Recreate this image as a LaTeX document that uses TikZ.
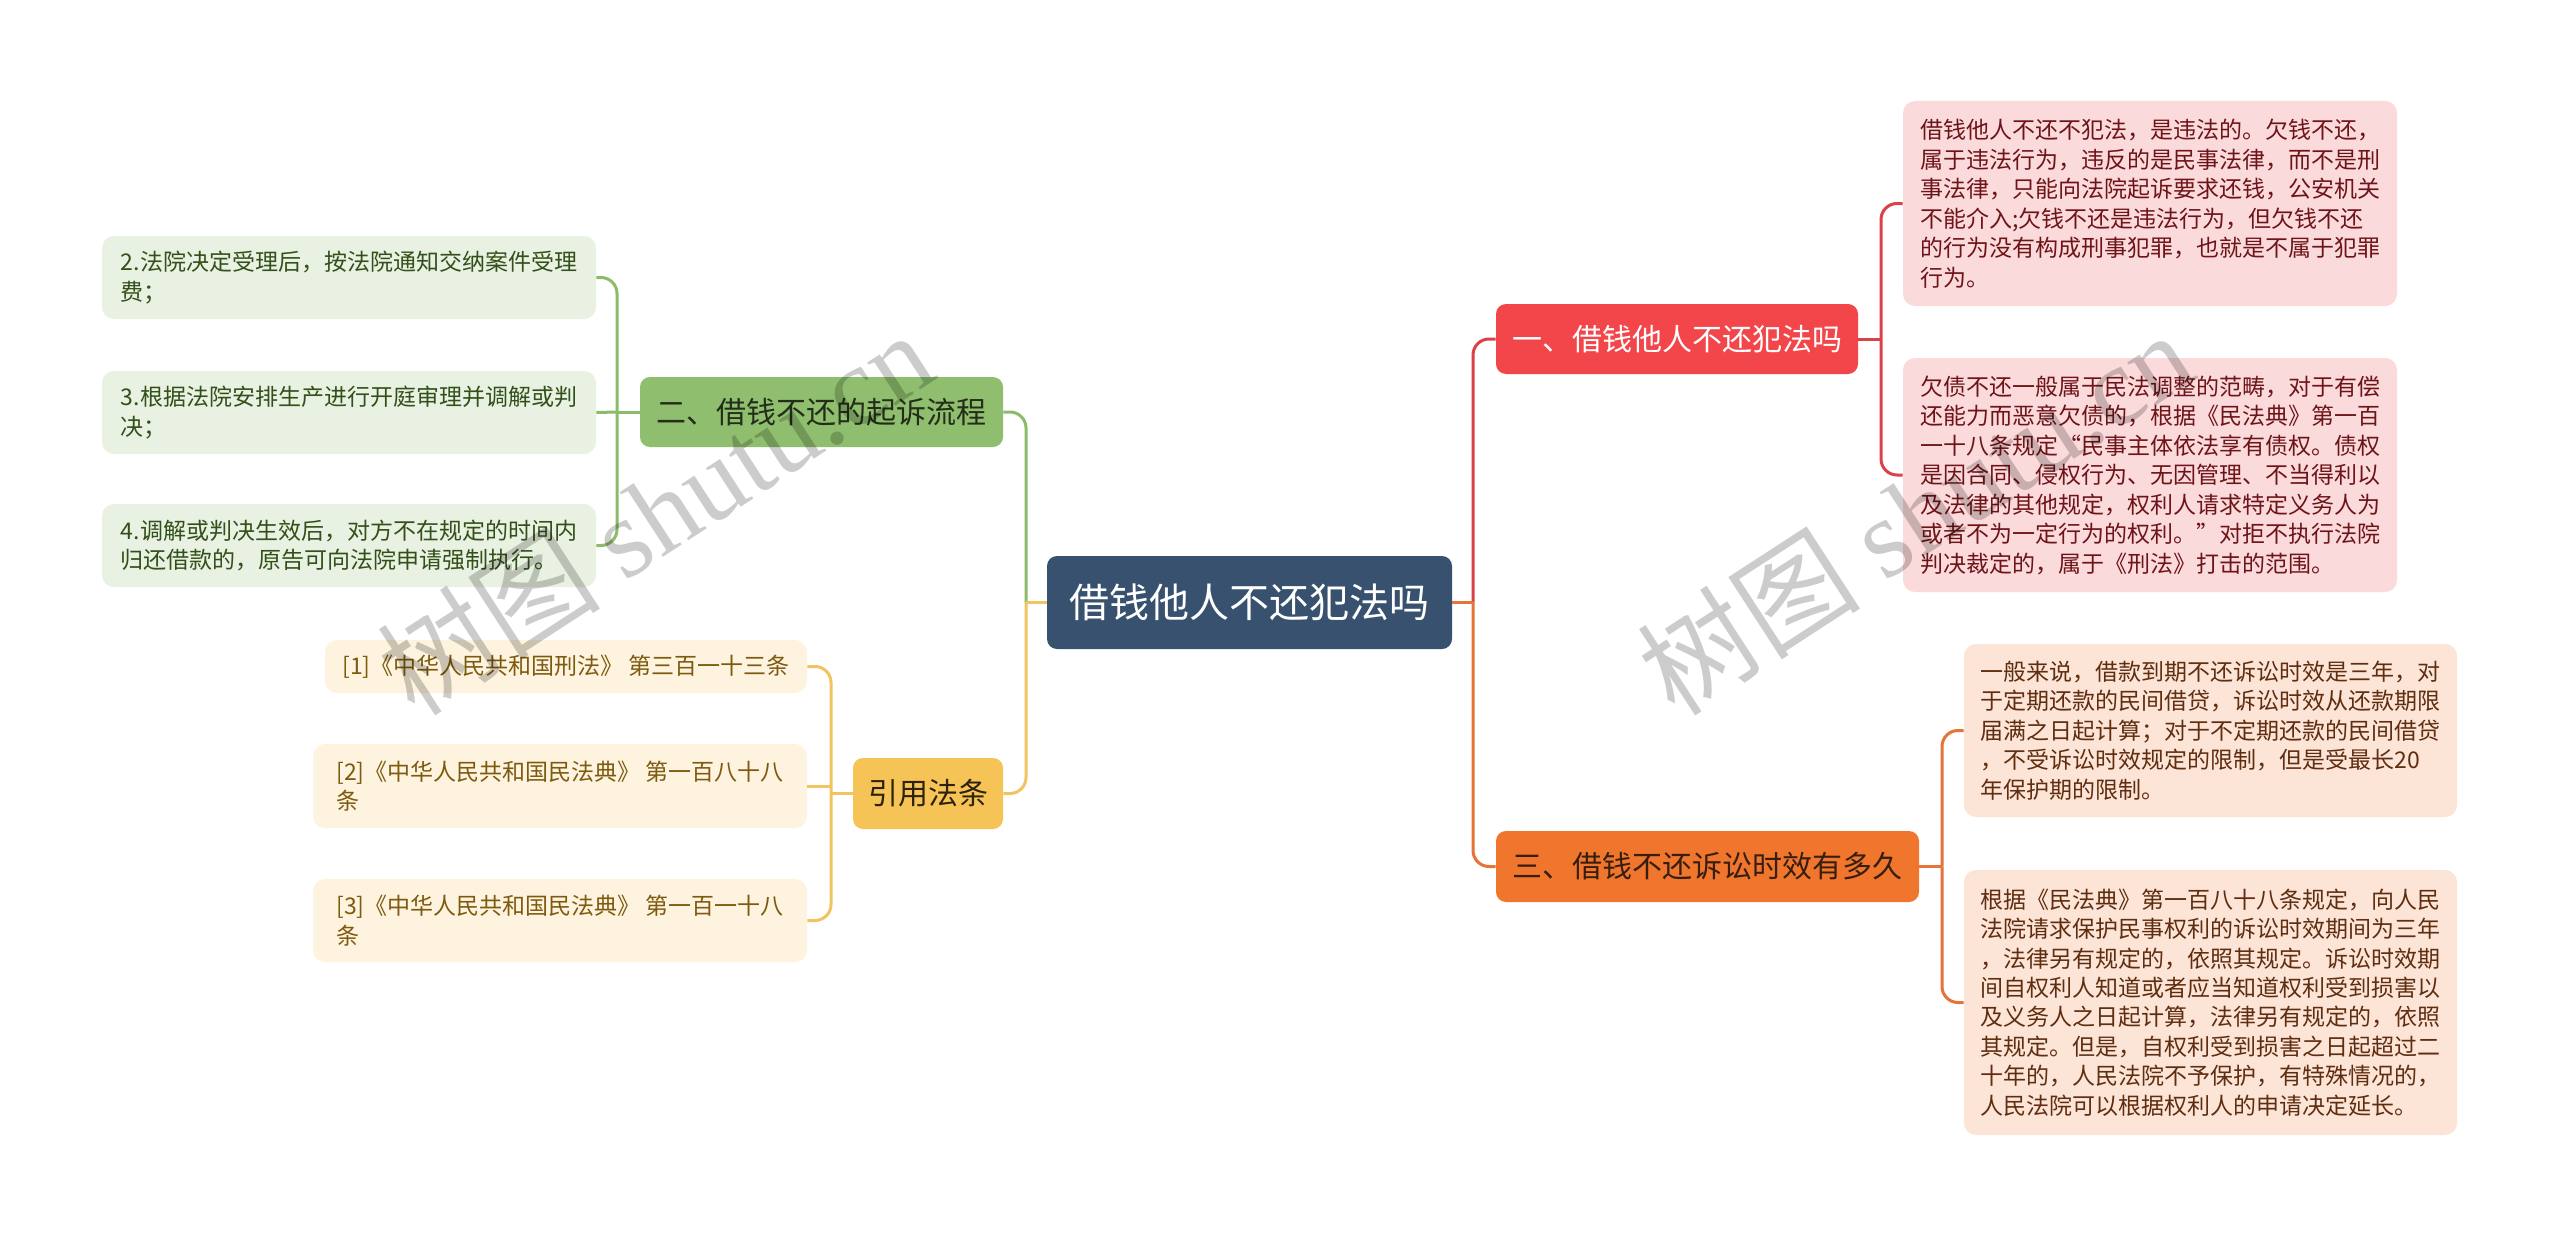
\documentclass[tikz,border=0pt]{standalone}
\usepackage{fontspec}
\setmainfont{Noto Sans CJK SC}
\newfontfamily\wmlatin{Liberation Serif}
\definecolor{centerc}{RGB}{55,81,110}
\definecolor{redb}{RGB}{243,70,74}
\definecolor{redleaf}{RGB}{251,218,219}
\definecolor{redtext}{RGB}{110,20,25}
\definecolor{redline}{RGB}{218,65,72}
\definecolor{orangeb}{RGB}{240,118,46}
\definecolor{orangeleaf}{RGB}{252,228,215}
\definecolor{orangetext}{RGB}{95,45,15}
\definecolor{orangeline}{RGB}{230,115,55}
\definecolor{orangebt}{RGB}{55,30,15}
\definecolor{greenb}{RGB}{143,190,111}
\definecolor{greenleaf}{RGB}{233,241,226}
\definecolor{greentext}{RGB}{50,80,25}
\definecolor{greenline}{RGB}{140,187,105}
\definecolor{greenbt}{RGB}{35,45,25}
\definecolor{yellowb}{RGB}{246,196,86}
\definecolor{yellowleaf}{RGB}{253,243,222}
\definecolor{yellowtext}{RGB}{125,90,15}
\definecolor{yellowline}{RGB}{241,196,95}
\definecolor{yellowbt}{RGB}{45,35,10}
\tikzset{
  rootbox/.style={rectangle, rounded corners=5pt, inner sep=0pt, align=center, fill=centerc, text=white, font=\fontsize{20}{24}\selectfont},
  branchbox/.style={rectangle, rounded corners=5pt, inner sep=0pt, align=center, font=\fontsize{15}{18}\selectfont},
  leafbox/.style={rectangle, rounded corners=6pt, inner sep=0pt, align=left, font=\fontsize{11.5}{14.75}\selectfont},
  link/.style={line width=1.5pt, rounded corners=8pt},
  stub/.style={line width=1.5pt},
  wmark/.style={text=black, text opacity=0.2, rotate=33, inner sep=0pt},
}
\begin{document}
\begin{tikzpicture}[x=0.5pt,y=-0.5pt]
\fill[white] (0,0) rectangle (2560,1236);
\useasboundingbox (0,0) rectangle (2560,1236);

% root
\node[rootbox, minimum width=202.5pt, minimum height=46.5pt] (root) at (1249.5,602.5) {借钱他人不还犯法吗};

% branches
\node[branchbox, fill=redb, text=white, minimum width=181pt, minimum height=35pt] (b1) at (1677,339) {一、借钱他人不还犯法吗};
\node[branchbox, fill=orangeb, text=orangebt, minimum width=211.5pt, minimum height=35.5pt] (b3) at (1707.5,866.5) {三、借钱不还诉讼时效有多久};
\node[branchbox, fill=greenb, text=greenbt, minimum width=181.5pt, minimum height=35pt] (b2) at (821.5,412) {二、借钱不还的起诉流程};
\node[branchbox, fill=yellowb, text=yellowbt, minimum width=75pt, minimum height=35.5pt] (b4) at (928,793.5) {引用法条};

% red leaves
\node[leafbox, fill=redleaf, text=redtext, minimum width=247pt, minimum height=102.5pt] (r1) at (2150,203.5) {借钱他人不还不犯法，是违法的。欠钱不还，\\属于违法行为，违反的是民事法律，而不是刑\\事法律，只能向法院起诉要求还钱，公安机关\\不能介入;欠钱不还是违法行为，但欠钱不还\\的行为没有构成刑事犯罪，也就是不属于犯罪\\行为。};
\node[leafbox, fill=redleaf, text=redtext, minimum width=247pt, minimum height=117pt] (r2) at (2150,475) {欠债不还一般属于民法调整的范畴，对于有偿\\还能力而恶意欠债的，根据《民法典》第一百\\一十八条规定“民事主体依法享有债权。债权\\是因合同、侵权行为、无因管理、不当得利以\\及法律的其他规定，权利人请求特定义务人为\\或者不为一定行为的权利。”对拒不执行法院\\判决裁定的，属于《刑法》打击的范围。};

% orange leaves
\node[leafbox, fill=orangeleaf, text=orangetext, minimum width=246.5pt, minimum height=86.5pt] (o1) at (2210.5,730.5) {一般来说，借款到期不还诉讼时效是三年，对\\于定期还款的民间借贷，诉讼时效从还款期限\\届满之日起计算；对于不定期还款的民间借贷\\，不受诉讼时效规定的限制，但是受最长20\\年保护期的限制。};
\node[leafbox, fill=orangeleaf, text=orangetext, minimum width=246.5pt, minimum height=132.5pt] (o2) at (2210.5,1002.5) {根据《民法典》第一百八十八条规定，向人民\\法院请求保护民事权利的诉讼时效期间为三年\\，法律另有规定的，依照其规定。诉讼时效期\\间自权利人知道或者应当知道权利受到损害以\\及义务人之日起计算，法律另有规定的，依照\\其规定。但是，自权利受到损害之日起超过二\\十年的，人民法院不予保护，有特殊情况的，\\人民法院可以根据权利人的申请决定延长。};

% green leaves
\node[leafbox, fill=greenleaf, text=greentext, minimum width=247pt, minimum height=41.5pt] (g1) at (349,277.5) {2.法院决定受理后，按法院通知交纳案件受理\\费；};
\node[leafbox, fill=greenleaf, text=greentext, minimum width=247pt, minimum height=41.5pt] (g2) at (349,412.5) {3.根据法院安排生产进行开庭审理并调解或判\\决；};
\node[leafbox, fill=greenleaf, text=greentext, minimum width=247pt, minimum height=41.5pt] (g3) at (349,545.5) {4.调解或判决生效后，对方不在规定的时间内\\归还借款的，原告可向法院申请强制执行。};

% yellow leaves
\node[leafbox, fill=yellowleaf, text=yellowtext, minimum width=241pt, minimum height=26.5pt] (y1) at (566,666.5) {[1]《中华人民共和国刑法》 第三百一十三条};
\node[leafbox, fill=yellowleaf, text=yellowtext, minimum width=247pt, minimum height=42pt] (y2) at (560,786) {[2]《中华人民共和国民法典》 第一百八十八\\条};
\node[leafbox, fill=yellowleaf, text=yellowtext, minimum width=247pt, minimum height=41.5pt] (y3) at (560,920.5) {[3]《中华人民共和国民法典》 第一百一十八\\条};

% junction coordinates
\coordinate (jr) at (1473,602.5);
\coordinate (jl) at (1026,602.5);
\coordinate (j1) at (1881,339);
\coordinate (j3) at (1942,866.5);
\coordinate (j2) at (617,412);
\coordinate (j4) at (831,793.5);

% root to branches
\draw[link, redline] (jr) |- (b1.west);
\draw[link, orangeline] (jr) |- (b3.west);
\draw[stub, orangeline] (root.east) -- (jr);
\draw[link, greenline] (jl) |- (b2.east);
\draw[link, yellowline] (jl) |- (b4.east);
\draw[stub, yellowline] (root.west) -- (jl);

% red leaf connectors
\draw[stub, redline] (b1.east) -- (j1);
\draw[link, redline] (j1) |- (r1.west);
\draw[link, redline] (j1) |- (r2.west);
% orange leaf connectors
\draw[stub, orangeline] (b3.east) -- (j3);
\draw[link, orangeline] (j3) |- (o1.west);
\draw[link, orangeline] (j3) |- (o2.west);
% green leaf connectors
\draw[stub, greenline] (b2.west) -- (j2);
\draw[link, greenline] (j2) |- (g1.east);
\draw[link, greenline] (j2) |- (g3.east);
\draw[stub, greenline] (j2) -- (g2.east);
% yellow leaf connectors
\draw[stub, yellowline] (b4.west) -- (j4);
\draw[link, yellowline] (j4) |- (y1.east);
\draw[link, yellowline] (j4) |- (y3.east);
\draw[stub, yellowline] (y2.east) -- (y2.east -| j4);

% watermarks
\node[wmark] (wm1) at (655,512) {\fontsize{56}{56}\selectfont 树图 {\wmlatin shutu.cn}};
\node[wmark] (wm2) at (1915,512) {\fontsize{56}{56}\selectfont 树图 {\wmlatin shutu.cn}};
\end{tikzpicture}
\end{document}
